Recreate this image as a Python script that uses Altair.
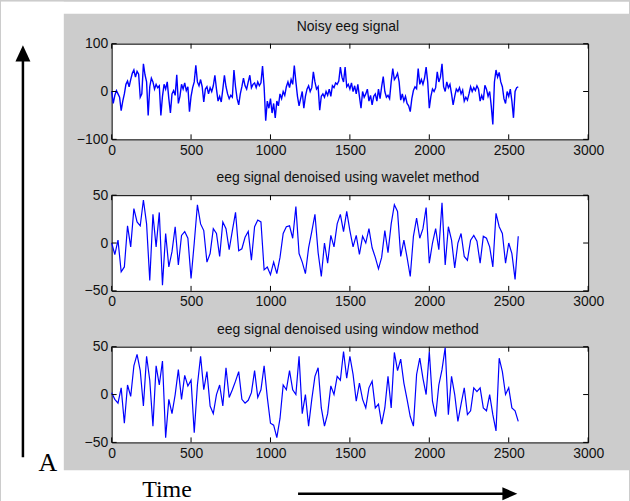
import altair as alt
import pandas as pd

x_ticks = [0, 500, 1000, 1500, 2000, 2500, 3000]

titles = ["Noisy eeg signal",
          "eeg signal denoised using wavelet method",
          "eeg signal denoised using window method"]

# noisy signal, one value every 10 samples
NOISY_STEP = 10
noisy = [
    0, -25, -8, 2, -5, -12, -40, -20, -5, 15,
    22, 10, 25, 38, 45, 30, 42, 36, -12, -5,
    58, 35, 20, -50, 10, 28, 20, 5, 15, 8,
    12, -50, -10, 15, 5, 20, -15, -45, -5, 2,
    -8, 35, -25, -10, 15, 5, 18, 2, 10, -42,
    -10, 8, 20, 55, 20, 12, 25, 10, -22, 5,
    10, -5, 8, 0, 12, 34, 5, -20, -10, -22,
    5, 34, 10, -5, -15, -8, -12, 45, 10, -15,
    -28, -5, 10, 28, 12, 5, 20, 34, 8, 15,
    18, 8, 20, 12, 18, 53, 10, -61, -20, -35,
    -15, -45, -25, -55, -20, -30, -5, -15, 0, -8,
    10, 20, 8, 25, 15, 54, 20, -10, -30, -15,
    0, -35, -10, 5, 12, 0, 8, 41, 20, 5,
    10, -39, -10, -5, -12, 0, -8, 5, -10, 12,
    8, 18, 15, 22, 51, 30, 20, 51, 10, 15,
    5, 18, 0, 12, -5, 15, -10, -35, 0, -12,
    -5, 5, -20, -8, -28, -10, -5, -20, 5, -15,
    10, 31, 0, -12, -8, -15, 20, 48, 25, 30,
    38, 20, -18, -5, -20, -10, -25, -30, -42, -15,
    2, 10, 6, 48, 15, 25, 15, 28, 51, 20,
    -35, -10, 5, 0, 8, 41, 20, 30, 58, 10,
    0, 20, 8, 15, -5, -28, -10, 5, 0, 8,
    -5, 3, -20, -12, -18, -5, 10, 0, 8, 2,
    12, 5, -20, -8, -18, 13, 5, -10, 0, -30,
    -69, 20, 45, 30, 40, 20, 10, -15, -25, 0,
    -10, 5, -20, -55, 0, 8, 10,
]

# denoised signals, one value every 20 samples
STEP = 20
wavelet = [
    0, -12, 3, -30, -25, 18, -4, 36, 22, 18,
    45, 20, -39, 30, -4, 32, -44, 10, -25, -9,
    17, -23, 8, 12, 5, -37, 0, 40, 20, 13,
    -20, -11, 15, 10, -14, 22, 15, -7, 13, 32,
    -8, -6, 6, 12, -18, 17, 24, 22, -28, -25,
    -33, -20, -32, -15, 10, 17, 18, 5, 38, -11,
    -20, -32, -5, 12, 30, -10, -35, 0, -21, 8,
    -4, 20, 30, 12, 33, 13, -4, 8, -12, 7,
    0, 15, -5, -15, -27, -15, 13, -10, 20, 40,
    33, -14, 3, -15, -35, 7, 26, 5, 15, 37,
    -21, 0, 15, -7, 42, -23, 17, 3, -26, 0,
    10, -14, -18, 3, 8, 2, -21, 7, 5, -4,
    -25, 31, 17, 10, -21, 0, -11, -38, 7,
]

window = [
    2, -5, -9, 7, -30, 10, -2, 30, 42, 25,
    -12, 40, 15, -33, 30, 10, 35, -45, -5, -20,
    0, 26, -5, 20, 9, 15, -40, 10, 40, 5,
    24, -12, -20, 0, 10, -12, 28, -3, 5, 14,
    24, -5, -9, -6, 2, 25, -3, 5, 30, -3,
    -30, -32, -45, -25, 10, 5, 25, 5, 0, 40,
    -20, 0, -33, -5, 19, 28, -14, -33, -20, 9,
    0, 19, 15, 45, 17, 40, 21, -7, 12, -5,
    -14, 7, 14, -14, -10, -31, -14, 19, -14, 44,
    25, 37, 12, -5, -23, -33, 21, 38, 17, 0,
    45, -7, -23, 10, 26, 49, -21, 19, 0, -28,
    -10, 7, -21, -17, 7, 3, 7, -14, -17, 0,
    -21, -38, 38, 24, 0, 7, -14, -17, -28,
]

y_domains = [[-100, 100], [-50, 50], [-50, 50]]
y_ticks = [[-100, 0, 100], [-50, 0, 50], [-50, 0, 50]]
line_widths = [1.4, 1.2, 1.2]

W, H = 478, 96
SANS = "Liberation Sans"
SERIF = "Liberation Serif"
TICK = 5


def panel(values, step, title, ydom, yt, lw):
    df = pd.DataFrame({"t": [i * step for i in range(len(values))], "v": values})
    xs = alt.Scale(domain=[0, 3000], nice=False, zero=False)
    ys = alt.Scale(domain=ydom, nice=False, zero=False)
    common = dict(grid=False, domain=False, ticks=False, tickSize=0, title=None,
                  format="d", labelFont=SANS, labelFontSize=14, labelColor="#111111",
                  labelFlush=False, labelOverlap=False)
    xax = alt.Axis(values=x_ticks, labelPadding=4, **common)
    yax = alt.Axis(values=yt, labelPadding=4, **common)
    line = alt.Chart(df).mark_line(color="#0000ff", strokeWidth=lw).encode(
        x=alt.X("t:Q", scale=xs, axis=xax),
        y=alt.Y("v:Q", scale=ys, axis=yax),
    )
    xt = pd.DataFrame({"t": x_ticks})
    yt_df = pd.DataFrame({"v": yt})
    top_t = alt.Chart(xt).mark_rule(color="black", strokeWidth=1).encode(
        x=alt.X("t:Q", scale=xs, axis=xax), y=alt.value(0), y2=alt.value(TICK))
    bot_t = alt.Chart(xt).mark_rule(color="black", strokeWidth=1).encode(
        x=alt.X("t:Q", scale=xs, axis=xax), y=alt.value(H - TICK), y2=alt.value(H))
    left_t = alt.Chart(yt_df).mark_rule(color="black", strokeWidth=1).encode(
        y=alt.Y("v:Q", scale=ys, axis=yax), x=alt.value(0), x2=alt.value(TICK))
    right_t = alt.Chart(yt_df).mark_rule(color="black", strokeWidth=1).encode(
        y=alt.Y("v:Q", scale=ys, axis=yax), x=alt.value(W - TICK), x2=alt.value(W))
    ttl = alt.Chart(pd.DataFrame({"s": [title]})).mark_text(
        font=SANS, fontSize=14, color="#111111", align="center", baseline="alphabetic"
    ).encode(text="s:N", x=alt.value(237), y=alt.value(-13))
    return [line, top_t, bot_t, left_t, right_t, ttl]


p1 = alt.layer(*panel(noisy, NOISY_STEP, titles[0], y_domains[0], y_ticks[0],
                      line_widths[0])).properties(width=W, height=H)
p2 = alt.layer(*panel(wavelet, STEP, titles[1], y_domains[1], y_ticks[1],
                      line_widths[1])).properties(width=W, height=H)

# decorations for the last panel (page margins, arrows, labels)
one = pd.DataFrame({"k": [0]})
left_strip = alt.Chart(one).mark_rect(color="white").encode(
    x=alt.value(-111), x2=alt.value(-48), y=alt.value(-346), y2=alt.value(155))
top_strip = alt.Chart(one).mark_rect(color="white").encode(
    x=alt.value(-111), x2=alt.value(519), y=alt.value(-346), y2=alt.value(-334))
bottom_strip = alt.Chart(one).mark_rect(color="white").encode(
    x=alt.value(-111), x2=alt.value(519), y=alt.value(124), y2=alt.value(155))
v_arrow = alt.Chart(one).mark_rule(color="black", strokeWidth=2.5).encode(
    x=alt.value(-89), y=alt.value(-290), y2=alt.value(111))
v_head = alt.Chart(one).mark_point(filled=True, color="black", opacity=1,
                                   shape="M-1,1L0,-1.2L1,1Z", size=225).encode(
    x=alt.value(-89), y=alt.value(-293.5))
h_arrow = alt.Chart(one).mark_rule(color="black", strokeWidth=2.5).encode(
    x=alt.value(187), x2=alt.value(396), y=alt.value(147.5))
h_head = alt.Chart(one).mark_point(filled=True, color="black", opacity=1,
                                   shape="M-1,-1L1.3,0L-1,1Z", size=169).encode(
    x=alt.value(398.5), y=alt.value(147.5))
a_lbl = alt.Chart(pd.DataFrame({"s": ["A"]})).mark_text(
    font=SERIF, fontSize=26, color="black", align="center", baseline="alphabetic"
).encode(text="s:N", x=alt.value(-64), y=alt.value(125))
time_lbl = alt.Chart(pd.DataFrame({"s": ["Time"]})).mark_text(
    font=SERIF, fontSize=24, color="black", align="center", baseline="alphabetic"
).encode(text="s:N", x=alt.value(55.5), y=alt.value(151))

p3 = alt.layer(*panel(window, STEP, titles[2], y_domains[2], y_ticks[2], line_widths[2]),
               left_strip, top_strip, bottom_strip, v_arrow, v_head,
               h_arrow, h_head, a_lbl, time_lbl).properties(width=W, height=H)

chart = alt.vconcat(p1, p2, p3, spacing=56, bounds="flush").properties(
    padding=0, background="#cccccc"
).configure_view(fill="white", stroke="black", strokeWidth=1)

chart.save("out.html", embed_options={"renderer": "svg", "actions": False})
